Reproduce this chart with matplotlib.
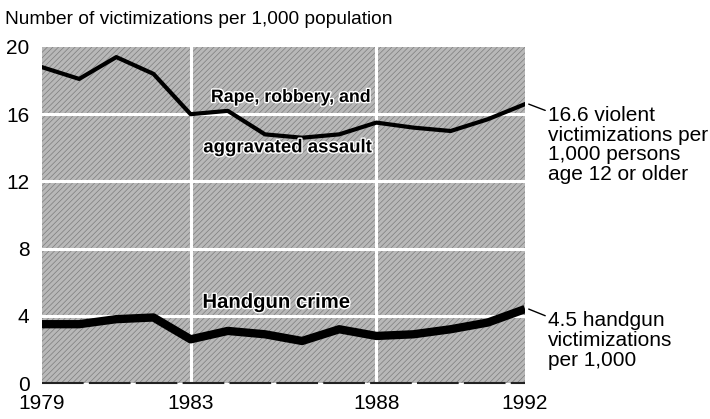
import matplotlib
matplotlib.use("Agg")
import matplotlib.pyplot as plt
import matplotlib.patheffects as pe

plt.rcParams['font.family'] = ['Liberation Sans', 'DejaVu Sans']
plt.rcParams['hatch.linewidth'] = 0.5
plt.rcParams['hatch.color'] = '#7c7c7c'

years = [1979, 1980, 1981, 1982, 1983, 1984, 1985, 1986, 1987, 1988, 1989, 1990, 1991, 1992]
violent = [18.8, 18.1, 19.4, 18.4, 16.0, 16.2, 14.8, 14.6, 14.8, 15.5, 15.2, 15.0, 15.7, 16.6]
handgun = [3.5, 3.5, 3.8, 3.9, 2.6, 3.1, 2.9, 2.5, 3.2, 2.8, 2.9, 3.2, 3.6, 4.4]
xticks = [1979, 1983, 1988, 1992]
yticks = [0, 4, 8, 12, 16, 20]

fig = plt.figure(figsize=(7.10, 4.19), dpi=100)
ax = fig.add_axes([42/710, 1-383/419, (525-42)/710, (383-47)/419])
ax.set_xlim(1979, 1992)
ax.set_ylim(0, 20)
ax.set_facecolor('#b8b8b8')
ax.patch.set_hatch('//////')
ax.patch.set_edgecolor('#7c7c7c')
ax.patch.set_linewidth(0)
for s in ax.spines.values():
    s.set_visible(False)

for y in [4, 8, 12, 16]:
    ax.axhline(y, color='white', lw=2.2, zorder=1)
for x in [1983, 1988]:
    ax.axvline(x, color='white', lw=2.2, zorder=1)
ax.axhline(0, color='#222222', lw=1.5, dashes=(20, 2.5), zorder=3, clip_on=False)

ax.plot(years, violent, color='black', lw=3, solid_joinstyle='round', zorder=4)
ax.plot(years, handgun, color='black', lw=6, solid_joinstyle='round', solid_capstyle='butt', zorder=4)

ax.set_xticks(xticks)
ax.set_yticks(yticks)
ax.tick_params(length=0, labelsize=15, pad=8)
ax.tick_params(axis='y', pad=9)

halo = [pe.withStroke(linewidth=2, foreground='white')]
ax.text(1985.7, 17.0, 'Rape, robbery, and', ha='center', va='center', fontsize=12.8,
        fontweight='bold', path_effects=halo, zorder=5)
ax.text(1985.6, 14.0, 'aggravated assault', ha='center', va='center', fontsize=13.4,
        fontweight='bold', path_effects=halo, zorder=5)
ax.text(1985.3, 4.8, 'Handgun crime', ha='center', va='center', fontsize=14.6,
        fontweight='bold', path_effects=halo, zorder=5)

fig.text(5/710, 1-20/419, 'Number of victimizations per 1,000 population', ha='left', va='center', fontsize=13.8)

ax.annotate('16.6 violent\nvictimizations per\n1,000 persons\nage 12 or older',
            xy=(1992.1, violent[-1]), xytext=(548/710, 1-106/419), textcoords='figure fraction',
            ha='left', va='top', fontsize=15, linespacing=1.05,
            arrowprops=dict(arrowstyle='-', color='black', lw=1, shrinkA=0, shrinkB=0,
                            relpos=(0, 0.93)), annotation_clip=False)
ax.annotate('4.5 handgun\nvictimizations\nper 1,000',
            xy=(1992.1, handgun[-1]), xytext=(548/710, 1-311/419), textcoords='figure fraction',
            ha='left', va='top', fontsize=15, linespacing=1.05,
            arrowprops=dict(arrowstyle='-', color='black', lw=1, shrinkA=0, shrinkB=0,
                            relpos=(0, 0.9)), annotation_clip=False)

fig.savefig('out.png', dpi=100)
